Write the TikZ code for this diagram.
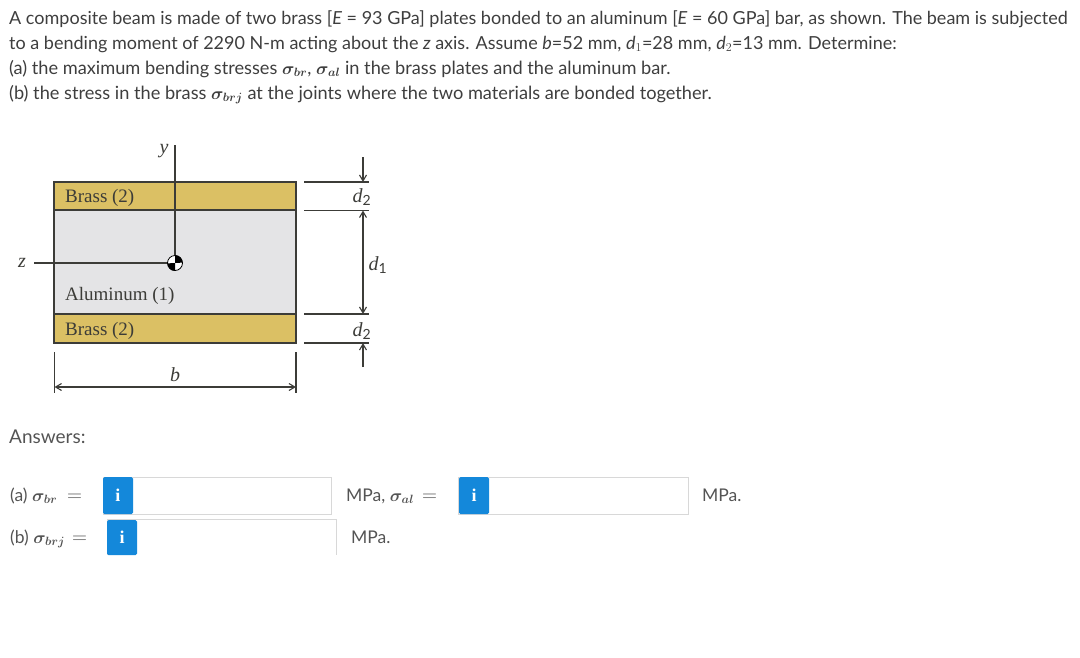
\documentclass[tikz,border=0pt]{standalone}
\usepackage{fontspec}
\usepackage{xcolor}
\usetikzlibrary{arrows.meta}
\setmainfont{Lato}
\newfontfamily\figfont{Liberation Serif}
\definecolor{brassYellow}{RGB}{219, 192, 100}
\definecolor{aluminumGray}{RGB}{228, 228, 230}
\definecolor{figureLine}{RGB}{60, 60, 56}
\definecolor{promptText}{RGB}{62, 62, 62}
\definecolor{answerText}{RGB}{84, 84, 84}
\definecolor{infoBlue}{RGB}{20, 136, 218}
\definecolor{fieldEdge}{RGB}{216, 216, 216}
\newcommand{\stressof}[1]{\mbox{\boldmath$\sigma_{#1}$}}
\tikzset{
  promptline/.style={anchor=base west, inner sep=0pt, text=promptText, font=\fontsize{18}{21}\selectfont},
  promptwide/.style={promptline, font=\fontsize{18.2}{21}\selectfont},
  answerlabel/.style={anchor=base west, inner sep=0pt, text=answerText, font=\fontsize{17.5}{20}\selectfont},
  equalsign/.style={answerlabel, font=\fontsize{20}{20}\selectfont},
  plate/.style={draw=figureLine, line width=1.2pt, inner sep=0pt, minimum width=242pt},
  figlabel/.style={inner sep=0pt, text=figureLine, font=\figfont\fontsize{19}{22}\selectfont},
  symlabel/.style={inner sep=0pt, text=figureLine, font=\figfont\itshape\fontsize{20}{22}\selectfont},
  dimline/.style={figureLine, line width=1.1pt, >={Straight Barb[length=6pt, width=7pt]}},
  field/.style={draw=fieldEdge, fill=white, line width=1pt, inner sep=0pt},
  infotab/.style={fill=infoBlue, rounded corners=1.5pt, inner sep=0pt, text=white, font=\figfont\bfseries\fontsize{18}{20}\selectfont}
}
\begin{document}
\begin{tikzpicture}[x=1pt, y=-1pt]
            \useasboundingbox (0,0) rectangle (1080,657);

            % Question
            \node[promptline] (line1) at (9,24) {A composite beam is made of two brass [\textit{E} = 93 GPa] plates bonded to an aluminum [\textit{E} = 60 GPa] bar, as shown. The beam is subjected};
            \node[promptline] (line2) at (9,49) {to a bending moment of 2290 N-m acting about the \textit{z} axis. Assume \textit{b}=52 mm, \textit{d}$_1$=28 mm, \textit{d}$_2$=13 mm. Determine:};
            \node[promptwide] (line3) at (9,74) {(a) the maximum bending stresses \stressof{br}, \stressof{al} in the brass plates and the aluminum bar.};
            \node[promptwide] (line4) at (9,99) {(b) the stress in the brass \stressof{brj} at the joints where the two materials are bonded together.};

            % Aluminum
            \node[plate, fill=aluminumGray, minimum height=104pt] (alu) at (175,262) {};

            % Brass
            \node[plate, fill=brassYellow, minimum height=28pt] (brassTop) at (175,196) {};
            \node[plate, fill=brassYellow, minimum height=29pt] (brassBot) at (175,328.5) {};

            % Labels on the section
            \node[figlabel, anchor=base west] (brassTopText) at (65,202) {Brass (2)};
            \node[figlabel, anchor=base west] (aluText) at (65,300) {Aluminum (1)};
            \node[figlabel, anchor=base west] (brassBotText) at (65,335) {Brass (2)};

            % Axes
            \node[circle, draw=black, fill=white, line width=0.8pt, minimum size=15pt, inner sep=0pt] (cg) at (175,263) {};
            \fill[black] (cg.center) -- (cg.north) arc[start angle=90, end angle=0, radius=7.5pt] -- cycle;
            \fill[black] (cg.center) -- (cg.south) arc[start angle=270, end angle=180, radius=7.5pt] -- cycle;
            \coordinate (yEnd) at (175,145);
            \coordinate (zEnd) at (34,263);
            \draw[dimline] (cg) -- (yEnd);
            \draw[dimline] (cg) -- (zEnd);
            \node[symlabel] (yText) at (164,151) {y};
            \node[symlabel] (zText) at (22,263) {z};

            % Depth dimensions
            \coordinate (ext1a) at (304,182);  \coordinate (ext1b) at (369,182);
            \coordinate (ext2a) at (304,210.5);  \coordinate (ext2b) at (369,210.5);
            \coordinate (ext3a) at (304,314);  \coordinate (ext3b) at (369,314);
            \coordinate (ext4a) at (304,343);  \coordinate (ext4b) at (369,343);
            \draw[dimline] (ext1a) -- (ext1b);
            \draw[dimline] (ext2a) -- (ext2b);
            \draw[dimline] (ext3a) -- (ext3b);
            \draw[dimline] (ext4a) -- (ext4b);
            \coordinate (topTail) at (363,157);  \coordinate (topTip) at (363,182);
            \coordinate (midTop) at (363,210.5);  \coordinate (midBot) at (363,314);
            \coordinate (botTail) at (363,367);  \coordinate (botTip) at (363,343);
            \draw[->, dimline] (topTail) -- (topTip);
            \draw[<->, dimline] (midTop) -- (midBot);
            \draw[->, dimline] (botTail) -- (botTip);
            \node[symlabel] (d2Top) at (362,197) {d\textsubscript{\normalfont 2}};
            \node[symlabel] (d1Mid) at (378,265) {d\textsubscript{\normalfont 1}};
            \node[symlabel] (d2Bot) at (362,331) {d\textsubscript{\normalfont 2}};

            % Width dimension
            \coordinate (bLeftA) at (54.5,352);  \coordinate (bLeftB) at (54.5,393);
            \coordinate (bRightA) at (296,352);  \coordinate (bRightB) at (296,393);
            \coordinate (bArrowL) at (54.5,387);  \coordinate (bArrowR) at (296,387);
            \draw[dimline] (bLeftA) -- (bLeftB);
            \draw[dimline] (bRightA) -- (bRightB);
            \draw[<->, dimline] (bArrowL) -- (bArrowR);
            \node[symlabel] (bText) at (175,375) {b};

            % Answers
            \node[answerlabel, font=\fontsize{19}{20}\selectfont] (answers) at (9,443) {Answers:};
            \node[answerlabel] (aLabel) at (10,501) {(a) \stressof{br}};
            \node[equalsign] (aEq) at (67,501) {$=$};
            \node[answerlabel] (bLabel) at (10,543) {(b) \stressof{brj}};
            \node[equalsign] (bEq) at (72,543) {$=$};
            \node[answerlabel] (unitBr) at (346,501) {MPa, \stressof{al}};
            \node[equalsign] (alEq) at (422,501) {$=$};
            \node[answerlabel] (unitAl) at (702,501) {MPa.};
            \node[answerlabel] (unitBrj) at (351,543) {MPa.};

            % Input fields
            \node[field, minimum width=228pt, minimum height=37pt] (fieldBr) at (217,495.5) {};
            \node[field, minimum width=230pt, minimum height=37pt] (fieldAl) at (573,495.5) {};
            \node[field, minimum width=229pt, minimum height=42pt] (fieldBrj) at (221.5,540) {};
            \fill[white] (100,555) rectangle (340,562);
            \node[infotab, minimum width=30pt, minimum height=37pt] (infoBr) at (118,495.5) {i};
            \node[infotab, minimum width=30pt, minimum height=37pt] (infoAl) at (474,495.5) {i};
            \node[infotab, minimum width=30pt, minimum height=35pt] (infoBrj) at (122,537.5) {i};
        \end{tikzpicture}
\end{document}
